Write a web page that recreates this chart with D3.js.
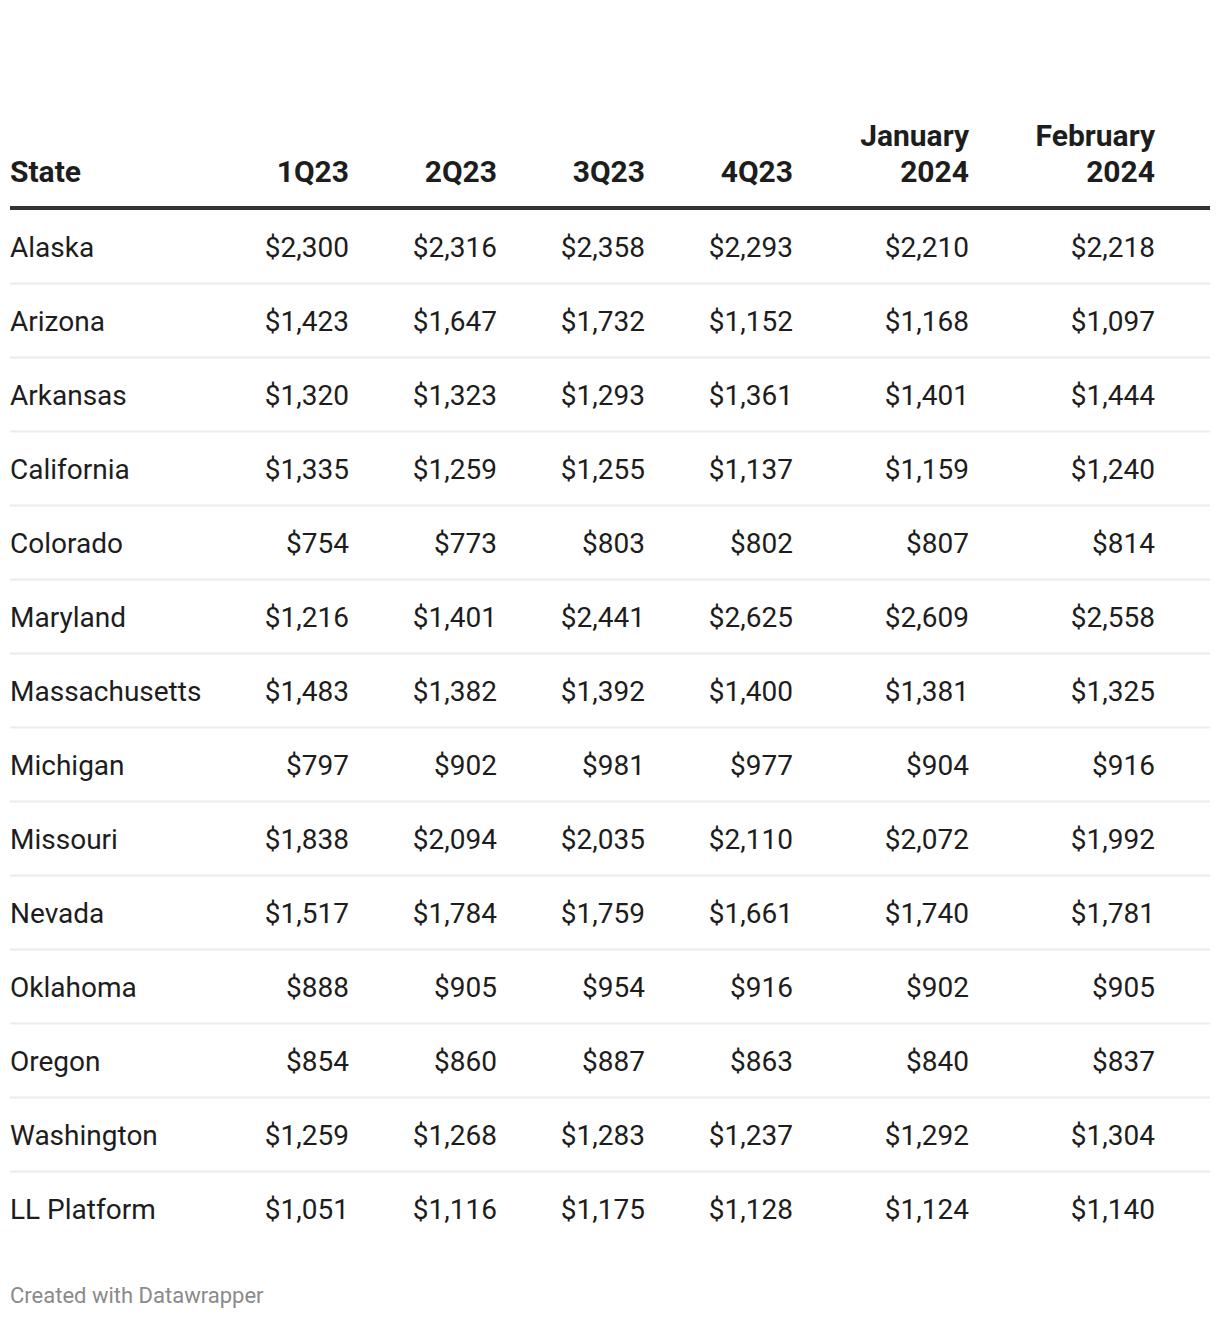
<!DOCTYPE html>
<meta charset="utf-8">
<style>
body { margin: 0; background: #fff; }
svg text { font-family: Roboto, "Noto Sans", sans-serif; fill: #1d1d1d; }
.head text { font-weight: 700; font-size: 30px; }
.rows text { font-size: 28px; }
.footer { font-size: 22px; fill: #8a8a8a !important; }
</style>
<svg width="1220" height="1320"></svg>
<script src="https://d3js.org/d3.v7.min.js"></script>
<script>

var headers = [["State"], ["1Q23"], ["2Q23"], ["3Q23"], ["4Q23"], ["January", "2024"], ["February", "2024"]];

var states = ["Alaska", "Arizona", "Arkansas", "California", "Colorado", "Maryland", "Massachusetts",
  "Michigan", "Missouri", "Nevada", "Oklahoma", "Oregon", "Washington", "LL Platform"];

var q1_23 = [2300, 1423, 1320, 1335, 754, 1216, 1483, 797, 1838, 1517, 888, 854, 1259, 1051];
var q2_23 = [2316, 1647, 1323, 1259, 773, 1401, 1382, 902, 2094, 1784, 905, 860, 1268, 1116];
var q3_23 = [2358, 1732, 1293, 1255, 803, 2441, 1392, 981, 2035, 1759, 954, 887, 1283, 1175];
var q4_23 = [2293, 1152, 1361, 1137, 802, 2625, 1400, 977, 2110, 1661, 916, 863, 1237, 1128];
var jan24 = [2210, 1168, 1401, 1159, 807, 2609, 1381, 904, 2072, 1740, 902, 840, 1292, 1124];
var feb24 = [2218, 1097, 1444, 1240, 814, 2558, 1325, 916, 1992, 1781, 905, 837, 1304, 1140];

var series = [q1_23, q2_23, q3_23, q4_23, jan24, feb24];

var svg = d3.select("svg"),
    left = 10,
    right = 1210;

// right edge of each numeric column
var colRight = [349, 497, 645, 793, 969, 1155];

var fmt = d3.format("$,");

var y = d3.scaleBand()
    .domain(states)
    .range([210, 210 + 74 * states.length]);

// header
var head = svg.append("g").attr("class", "head");
headers.forEach(function(lines, i) {
  var t = head.append("text")
      .attr("x", i === 0 ? left : colRight[i - 1])
      .attr("text-anchor", i === 0 ? "start" : "end");
  lines.forEach(function(l, j) {
    t.append("tspan")
        .attr("x", i === 0 ? left : colRight[i - 1])
        .attr("y", 182 - (lines.length - 1 - j) * 36)
        .text(l);
  });
});

svg.append("rect")
    .attr("x", left).attr("y", 206)
    .attr("width", right - left).attr("height", 4)
    .attr("fill", "#333");

// row separators
svg.append("g").selectAll("rect")
  .data(states.slice(0, -1))
  .enter().append("rect")
    .attr("x", left)
    .attr("y", function(d) { return y(d) + y.bandwidth() - 1.5; })
    .attr("width", right - left)
    .attr("height", 2)
    .attr("fill", "#ececec");

var rows = svg.append("g").attr("class", "rows")
  .selectAll("g")
  .data(states)
  .enter().append("g")
    .attr("transform", function(d) { return "translate(0," + (y(d) + y.bandwidth() / 2 + 9.5) + ")"; });

rows.append("text")
    .attr("x", left)
    .text(function(d) { return d; });

series.forEach(function(s, c) {
  rows.append("text")
      .attr("x", colRight[c])
      .attr("text-anchor", "end")
      .text(function(d, i) { return fmt(s[i]); });
});

svg.append("text")
    .attr("class", "footer")
    .attr("x", left)
    .attr("y", 1303)
    .text("Created with Datawrapper");

</script>
